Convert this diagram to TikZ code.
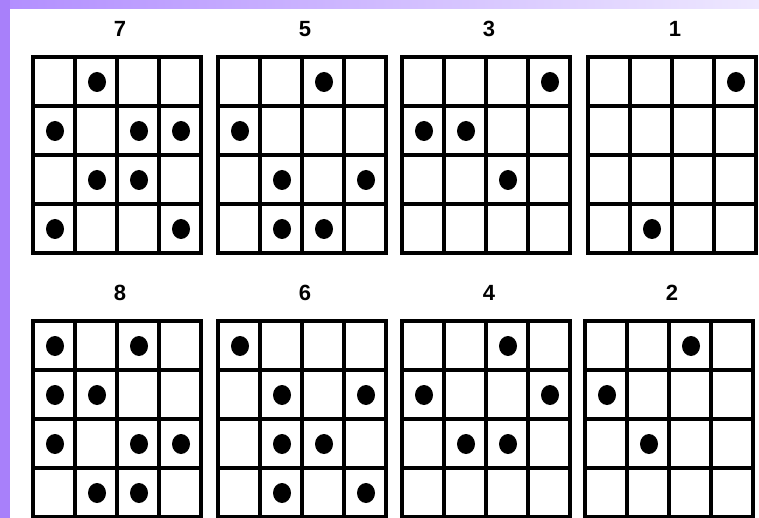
\documentclass[tikz,border=0pt]{standalone}
\usepackage{fontspec}
\setmainfont{Liberation Sans}
\definecolor{stripviolet}{RGB}{168,128,250}
\definecolor{bandviolet}{RGB}{178,142,255}
\definecolor{bandpale}{RGB}{238,232,255}
\tikzset{
  cellline/.style={line width=4pt, line cap=rect},
  spot/.style={fill=black},
  panellabel/.style={font=\fontsize{22}{22}\selectfont\bfseries, inner sep=0pt}
}
\begin{document}
\begin{tikzpicture}[x=1pt, y=-1pt]
\useasboundingbox (0,0) rectangle (759,518);
\shade[left color=bandviolet, right color=bandpale] (0,0) rectangle (759,9);
\fill[stripviolet] (0,0) rectangle (10,518);
% panels: left, top, label, dots as column/row
\foreach \px/\py/\lab/\spots in {
  33/57/7/{2/1,1/2,3/2,4/2,2/3,3/3,1/4,4/4},
  218/57/5/{3/1,1/2,2/3,4/3,2/4,3/4},
  402/57/3/{4/1,1/2,2/2,3/3},
  588/57/1/{4/1,2/4},
  33/321/8/{1/1,3/1,1/2,2/2,1/3,3/3,4/3,2/4,3/4},
  218/321/6/{1/1,2/2,4/2,2/3,3/3,2/4,4/4},
  402/321/4/{3/1,1/2,4/2,2/3,3/3},
  585/321/2/{3/1,1/2,2/3}} {
  \node[panellabel] (lab\lab) at (\px+87,\py-28) {\lab};
  \foreach \i in {0,...,4} {
    \draw[cellline] (\px+42*\i,\py) -- (\px+42*\i,\py+196);
    \draw[cellline] (\px,\py+49*\i) -- (\px+168,\py+49*\i);
  }
  \foreach \c/\r in \spots
    \fill[spot] (\px+42*\c-20,\py+49*\r-24) ellipse [x radius=9pt, y radius=10pt];
}
\end{tikzpicture}
\end{document}
